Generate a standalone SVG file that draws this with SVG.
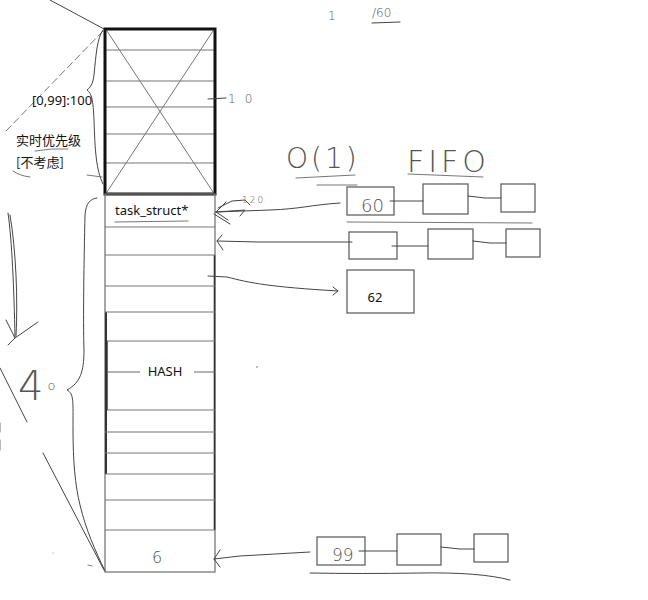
<svg xmlns="http://www.w3.org/2000/svg" width="648" height="600" viewBox="0 0 648 600">
<style>
.bg{fill:#fff}
.box{fill:#fff;stroke:#555;stroke-width:1.2}
.row{stroke:#777;stroke-width:1.2}
.ink{fill:none;stroke:#444;stroke-width:1;stroke-linecap:round;stroke-linejoin:round}
.lt{fill:none;stroke:#777;stroke-width:1;stroke-linecap:round}
.t{font-family:"Noto Sans","Liberation Sans",sans-serif;font-size:13px;fill:#111}
.cjk{font-family:"Noto Sans CJK SC","Noto Sans",sans-serif;font-size:13px;fill:#111}
.hw{font-family:"DejaVu Sans","Liberation Sans",sans-serif;fill:#555;font-weight:200}
</style>
<rect class="bg" x="0" y="0" width="648" height="600"/>

<g id="realtime-block">
  <line x1="107" y1="31" x2="213" y2="192" stroke="#666" stroke-width="0.9"/>
  <line x1="213" y1="31" x2="107" y2="192" stroke="#666" stroke-width="0.9"/>
  <line class="row" x1="106" y1="50" x2="214" y2="50"/>
  <line class="row" x1="106" y1="81" x2="214" y2="81"/>
  <line class="row" x1="106" y1="107" x2="214" y2="107"/>
  <line class="row" x1="106" y1="134" x2="214" y2="134"/>
  <line class="row" x1="106" y1="163" x2="214" y2="163"/>
  <rect x="105" y="29" width="110" height="165" fill="none" stroke="#111" stroke-width="3"/>
  <line class="ink" x1="208" y1="99" x2="226" y2="98"/>
  <text class="hw" x="228" y="103" font-size="12" letter-spacing="9">10</text>
</g>

<g id="normal-column">
  <rect x="105" y="194" width="110" height="378" fill="none" stroke="#777" stroke-width="1.3"/>
  <line x1="106" y1="312" x2="106" y2="474" stroke="#333" stroke-width="2"/>
  <line x1="214.5" y1="255" x2="214.5" y2="530" stroke="#333" stroke-width="1.6"/>
  <line class="row" x1="105" y1="227" x2="215" y2="227"/>
  <line class="row" x1="105" y1="255" x2="215" y2="255"/>
  <line class="row" x1="105" y1="286" x2="215" y2="286"/>
  <line class="row" x1="105" y1="312" x2="215" y2="312"/>
  <line class="row" x1="107" y1="341" x2="215" y2="341"/>
  <line class="row" x1="107" y1="410" x2="215" y2="410"/>
  <line class="row" x1="105" y1="432" x2="215" y2="432"/>
  <line class="row" x1="105" y1="453" x2="215" y2="453"/>
  <line class="row" x1="105" y1="474" x2="215" y2="474"/>
  <line class="row" x1="105" y1="500" x2="215" y2="500"/>
  <line class="row" x1="105" y1="530" x2="215" y2="530"/>
  <line x1="107" y1="341" x2="107" y2="410" stroke="#333" stroke-width="1.5"/>
  <text class="t" x="115" y="215">task_struct*</text>
  <line class="lt" x1="115" y1="222" x2="188" y2="221"/>
  <line x1="107" y1="372" x2="140" y2="372" stroke="#666" stroke-width="1"/>
  <line x1="194" y1="372" x2="215" y2="372" stroke="#666" stroke-width="1"/>
  <text class="t" x="165" y="376" text-anchor="middle">HASH</text>
  <text class="hw" x="152" y="563" font-size="16">6</text>
</g>

<g id="left-notes">
  <line class="ink" x1="50" y1="0" x2="104" y2="29"/>
  <line class="lt" x1="103" y1="31" x2="5" y2="132" stroke-dasharray="7,4"/>
  <path class="ink" d="M103,30 C97,38 96,55 94,75 C93,84 90,88 87,90 C92,94 93,100 94,120 C95,150 96,170 103,184"/>
  <text class="t" x="32" y="105" font-size="12">[0,99]:100</text>
  <text class="cjk" x="16" y="145">实时优先级</text>
  <path class="lt" d="M35,151 Q52,148 68,149"/>
  <text class="cjk" x="16" y="167">[不考虑]</text>
  <path class="lt" d="M13,171 Q20,176 30,177"/>
  <line class="lt" x1="87" y1="175" x2="102" y2="177"/>

  <path class="ink" d="M97,198 C90,199 86,203 85,215 C84,260 83,320 84,350 C84,372 80,383 67,390 C74,394 73,400 73,430 C73,460 75,485 80,505 C86,530 95,550 105,571"/>
  <path class="ink" d="M8,213 C12,240 14,290 15,337 M10,215 C16,250 18,300 16,336"/>
  <path class="ink" d="M6,320 L15,338 L38,322 M8,345 L15,338"/>
  <text class="hw" x="18" y="400" font-size="40">4<tspan font-size="13" dx="4" dy="-10">o</tspan></text>
  <line class="ink" x1="0" y1="368" x2="27" y2="422"/>
  <line class="lt" x1="0" y1="423" x2="0" y2="432"/>
  <line class="lt" x1="0" y1="440" x2="0" y2="450"/>
  <line class="ink" x1="43" y1="453" x2="104" y2="570"/>
  <line class="lt" x1="88" y1="565" x2="92" y2="566"/>
  <circle cx="53" cy="553" r="0.6" fill="#888"/>
</g>

<g id="top-notes">
  <text class="hw" x="328" y="20" font-size="12">1</text>
  <text class="hw" x="372" y="17" font-size="12">/60</text>
  <line class="ink" x1="372" y1="23" x2="400" y2="22"/>
  <text class="hw" x="286" y="168" font-size="28" letter-spacing="3">O(1)</text>
  <line class="lt" x1="296" y1="178" x2="355" y2="175"/>
  <line class="lt" x1="317" y1="185" x2="357" y2="185"/>
  <text class="hw" x="407" y="172" font-size="30" letter-spacing="4">FIFO</text>
  <line class="lt" x1="408" y1="174" x2="483" y2="177"/>
  <circle cx="257" cy="367" r="0.8" fill="#666"/>
</g>

<g id="list-60">
  <rect class="box" x="347" y="187" width="47" height="28"/>
  <text class="hw" x="361" y="212" font-size="18">60</text>
  <rect class="box" x="423" y="184" width="45" height="30"/>
  <rect class="box" x="501" y="184" width="34" height="28"/>
  <line class="lt" x1="347" y1="222" x2="532" y2="223"/>
</g>

<g id="list-61">
  <rect class="box" x="349" y="232" width="48" height="27"/>
  <rect class="box" x="428" y="229" width="45" height="30"/>
  <rect class="box" x="506" y="229" width="34" height="28"/>
</g>

<g id="node-62">
  <rect class="box" x="347" y="270" width="67" height="43"/>
  <text class="t" x="375" y="302" text-anchor="middle">62</text>
</g>

<g id="list-99">
  <rect class="box" x="317" y="537" width="48" height="28"/>
  <text class="hw" x="332" y="561" font-size="17">99</text>
  <rect class="box" x="397" y="534" width="44" height="31"/>
  <rect class="box" x="474" y="534" width="34" height="28"/>
  <path class="ink" d="M310,573 Q360,574 420,573 T510,580"/>
</g>

<g id="connectors">
  <path class="ink" d="M390,201 L423,201"/>
  <path class="ink" d="M468,196 L485,198 L501,198"/>
  <path class="ink" d="M392,246 L428,246"/>
  <path class="ink" d="M473,241 L490,243 L506,243"/>
  <path class="ink" d="M359,551 L397,551"/>
  <path class="ink" d="M441,547 L460,549 L474,549"/>

  <path class="ink" d="M340,203 C310,205 300,209 270,210 L216,212"/>
  <path class="ink" d="M216,212 L226,202 M216,212 L228,220 M216,212 L245,210 L240,216 M218,208 L232,201 L245,200 L250,205 M214,214 L230,224"/>
  <text class="hw" x="242" y="203" font-size="9">1<tspan dx="2">2</tspan><tspan dx="2">0</tspan></text>

  <path class="ink" d="M352,242 L258,242 L217,241"/>
  <path class="ink" d="M222,235 L217,241 L223,250"/>

  <path class="ink" d="M208,276 L227,277 C250,283 270,287 338,291"/>
  <path class="ink" d="M333,287 L338,291 L333,295"/>

  <path class="ink" d="M310,552 L240,556 L214,559"/>
  <path class="ink" d="M220,550 L214,559 L220,567"/>
</g>
</svg>
